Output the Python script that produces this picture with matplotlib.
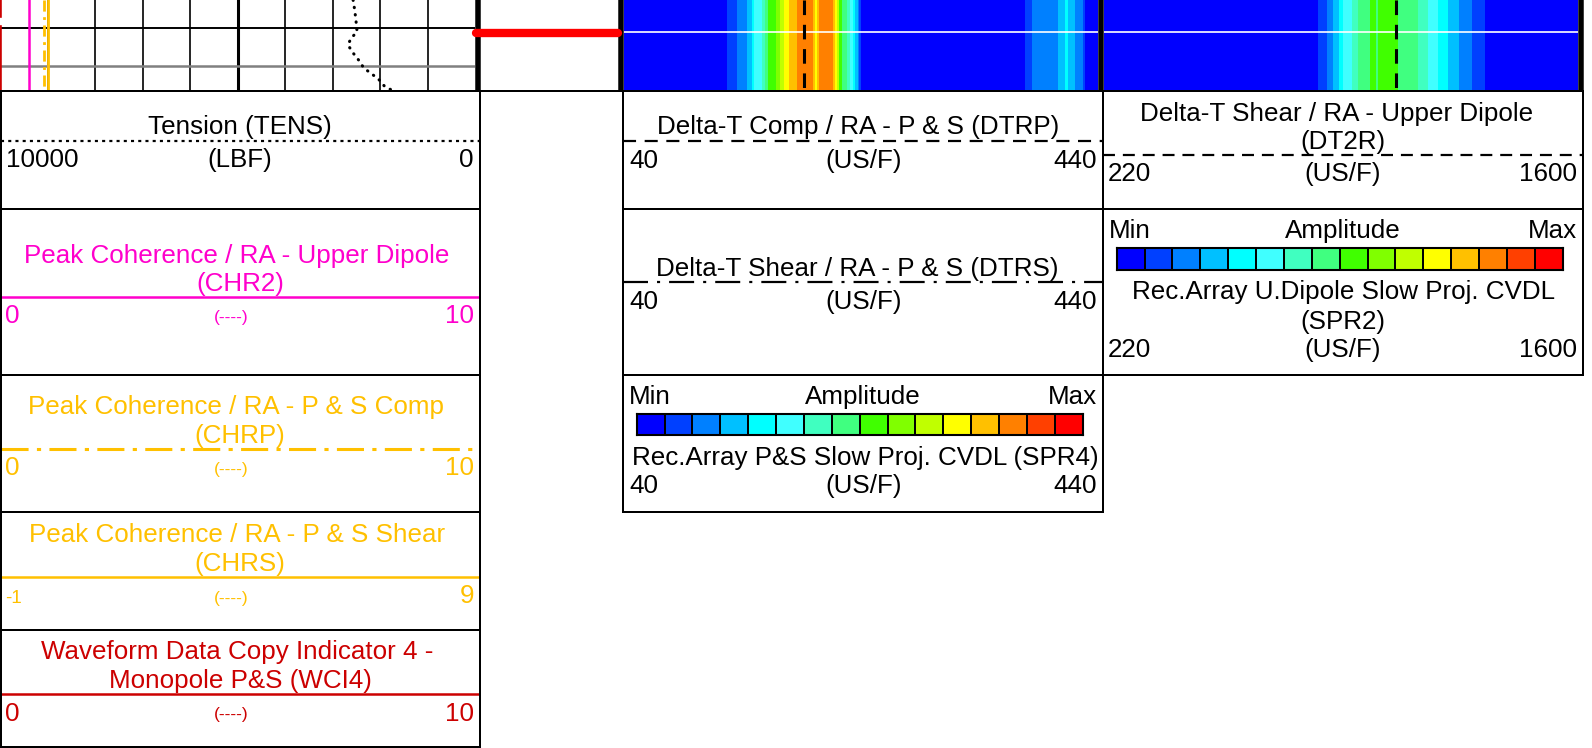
import numpy as np
import matplotlib
matplotlib.use("Agg")
import matplotlib.pyplot as plt
from matplotlib.colors import ListedColormap, BoundaryNorm

plt.rcParams['font.family'] = ['Liberation Sans', 'DejaVu Sans']
plt.rcParams['lines.scale_dashes'] = False

W, H, DPI = 1592, 748, 100
PX = 72.0 / DPI          # points per pixel

# ---------------------------------------------------------------- log data
DEPTH_TOP, DEPTH_BOTTOM = 4520.0, 4529.0          # ft shown in the strip
depth_grid_major = [4522.75]
depth_grid_minor = [4526.6]
marker_depth = 4523.3
image_line_depth = 4523.2

tens_depth = [4520.0, 4521.0, 4522.0, 4523.2, 4523.8, 4524.5, 4525.3,
              4526.0, 4526.8, 4527.3, 4527.9, 4528.6, 4529.0]
tens = [2566, 2533, 2507, 2482, 2608, 2674, 2566, 2451, 2341, 2200,
        2034, 1909, 1758]
TENS_SCALE = (10000, 0)

chr2_depth = [4520.0, 4529.0]
chr2 = [0.62, 0.62]
CHR2_SCALE = (0, 10)

chrp_depth = [4520.0, 4529.0]
chrp = [0.92, 0.92]
CHRP_SCALE = (0, 10)

chrs_depth = [4520.0, 4529.0]
chrs = [0.0, 0.0]
CHRS_SCALE = (-1, 9)

wci4_depth = [4520.0, 4521.6, 4522.1, 4522.7, 4529.0]
wci4 = [0, 0, np.nan, 0, 0]
WCI4_SCALE = (0, 10)

dtrp_depth = [4520.0, 4529.0]
dtrp = [192.2, 192.2]
DTRP_SCALE = (40, 440)

dt2r_depth = [4520.0, 4529.0]
dt2r = [1069.0, 1069.0]
DT2R_SCALE = (220, 1600)

# slowness projections: band edges (us/ft) and amplitude class per band
spr4_edges = [40.0, 126.7, 135.1, 144.1, 147.8, 150.0, 156.2, 159.0, 161.8,
              168.0, 171.6, 175.3, 179.2, 185.7, 199.9, 201.6, 202.9, 204.6,
              216.6, 218.1, 220.0, 221.4, 223.7, 227.9, 230.7, 233.0, 234.9,
              237.2, 238.3, 240.0, 378.4, 384.1, 406.5, 412.2, 414.9, 420.6,
              427.6, 429.0, 440.0]
spr4_level = [0, 1, 2, 3, 4, 5, 6, 7, 8, 9, 10, 11, 12, 13, 12, 11, 12, 13,
              12, 11, 10, 8, 7, 6, 5, 4, 3, 2, 1, 0, 1, 2, 3, 4, 3, 2, 1, 0]
SPR4_SCALE = (40, 440)

spr2_edges = [220.0, 843.9, 868.4, 887.6, 905.1, 916.7, 941.2, 960.4, 994.4,
              1011.9, 1016.8, 1076.8, 1135.1, 1164.2, 1193.3, 1222.4, 1254.4,
              1290.5, 1329.2, 1600.0]
spr2_level = [0, 1, 2, 3, 4, 5, 6, 7, 8, 7, 8, 7, 6, 5, 4, 3, 2, 1, 0]
SPR2_SCALE = (220, 1600)

amp_colors = ['#0000FF', '#0040FF', '#0080FF', '#00C0FF', '#00FFFF',
              '#40FFFF', '#40FFC0', '#40FF80', '#40FF00', '#80FF00',
              '#C0FF00', '#FFFF00', '#FFC000', '#FF8000', '#FF4000',
              '#FF0000']

MAGENTA, AMBER, DARKRED = '#FF00CC', '#FFC000', '#CC0000'

# ---------------------------------------------------------------- layout
STRIP_H = 90
T1, T2, T3, T4 = (0, 475), (480, 618), (624, 1098), (1104, 1578)
FS = 18.7           # header font size (pt)
FS_SMALL = 12.5

amp_cmap = ListedColormap(amp_colors)
amp_norm = BoundaryNorm(np.arange(-0.5, 16.5, 1.0), 16)

fig = plt.figure(figsize=(W / DPI, H / DPI), dpi=DPI)
fig.patch.set_facecolor('white')

canvas = fig.add_axes([0, 0, 1, 1])
canvas.set_xlim(0, W)
canvas.set_ylim(H, 0)
canvas.axis('off')


def px_rect(x0, y0, x1, y1):
    return [x0 / W, 1 - y1 / H, (x1 - x0) / W, (y1 - y0) / H]


def track_axes(span, xlim, z=1):
    ax = fig.add_axes(px_rect(span[0], 0, span[1], STRIP_H), zorder=z)
    ax.set_xlim(*xlim)
    ax.set_ylim(DEPTH_BOTTOM, DEPTH_TOP)
    ax.axis('off')
    ax.patch.set_alpha(0)
    return ax


def curve(span, scale, d, v, z=3, **kw):
    ax = track_axes(span, scale, z)
    ax.plot(v, d, **kw)
    return ax


# ---- track 1 grid
g = track_axes(T1, (0, 10), 1)
for k in range(1, 10):
    g.axvline(k, color='black', lw=(2.2 if k == 5 else 1.2))
for d in depth_grid_major:
    g.axhline(d, color='black', lw=1.4)
for d in depth_grid_minor:
    g.axhline(d, color='#808080', lw=1.8)

# ---- track 1 curves
curve(T1, WCI4_SCALE, wci4_depth, wci4, z=3, color=DARKRED, lw=2.6)
curve(T1, CHR2_SCALE, chr2_depth, chr2, z=3, color=MAGENTA, lw=1.8)
curve(T1, CHRS_SCALE, chrs_depth, chrs, z=3, color=AMBER, lw=2.0)
curve(T1, CHRP_SCALE, chrp_depth, chrp, z=3, color=AMBER, lw=2.0,
      dashes=(8, 4, 2, 4))
curve(T1, TENS_SCALE, tens_depth, tens, z=3, color='black', lw=2.2,
      dashes=(0.3, 5.0), dash_capstyle='round')

# ---- depth track marker
m = track_axes(T2, (0, 1), 2)
m.plot([-0.03, 1.0], [marker_depth, marker_depth], color='#FF0000', lw=6.0,
       solid_capstyle='round', clip_on=False)

# ---- slowness projection images
for span, scale, edges, lev in ((T3, SPR4_SCALE, spr4_edges, spr4_level),
                                (T4, SPR2_SCALE, spr2_edges, spr2_level)):
    ax = track_axes(span, scale, 1)
    ax.pcolormesh(edges, [DEPTH_TOP, DEPTH_BOTTOM], np.array([lev]),
                  cmap=amp_cmap, norm=amp_norm, shading='flat')
    ax.axhline(image_line_depth, color='white', lw=1.2)

curve(T3, DTRP_SCALE, dtrp_depth, dtrp, z=3, color='black', lw=2.2,
      dashes=(10.5, 7))
curve(T4, DT2R_SCALE, dt2r_depth, dt2r, z=3, color='black', lw=2.2,
      dashes=(10.5, 7))

# ---- track borders
for xb in (477.5, 621, 1101, 1580.5):
    canvas.plot([xb, xb], [0, STRIP_H], color='black', lw=5.5 * PX,
                solid_capstyle='butt', zorder=10)
canvas.plot([0, 1583], [91, 91], color='black', lw=2 * PX, zorder=10)

# ---------------------------------------------------------------- headers
EDGE = 2.0 * PX


def box(x0, y0, x1, y1):
    canvas.add_patch(plt.Rectangle((x0, y0), x1 - x0, y1 - y0, fill=False,
                                   edgecolor='black', lw=EDGE, zorder=5))


def put(x, yc, s, ha='center', size=FS, color='black'):
    canvas.text(x, yc + 0.358 * size / PX, s, ha=ha, va='baseline',
                fontsize=size, color=color, zorder=6)


def small(x, yc, s, color):
    canvas.text(x, yc, s, ha='center', va='center', fontsize=FS_SMALL,
                color=color, zorder=6)


def sample(x0, x1, y, **kw):
    canvas.plot([x0, x1], [y, y], zorder=4, solid_capstyle='butt', **kw)


# left column
LX0, LX1 = 0.8, 480
LC = 240
for y0, y1 in ((91, 208.5), (208.5, 375), (375, 511.7), (511.7, 630),
               (630, 747)):
    box(LX0, y0, LX1, y1)

put(LC, 125, 'Tension (TENS)')
sample(LX0, LX1, 140.7, color='black', lw=1.6, dashes=(2.2, 3.0))
put(6, 158, '10000', ha='left')
put(LC, 158, '(LBF)')
put(474, 158, '0', ha='right')

put(LC - 3, 253.3, 'Peak Coherence / RA - Upper Dipole', color=MAGENTA)
put(LC, 281.7, '(CHR2)', color=MAGENTA)
sample(LX0, LX1, 297.3, color=MAGENTA, lw=1.8)
put(5, 314, '0', ha='left', color=MAGENTA)
small(231, 317.7, '(----)', MAGENTA)
put(474, 314, '10', ha='right', color=MAGENTA)

put(LC - 4, 405, 'Peak Coherence / RA - P & S Comp', color=AMBER)
put(LC, 433.3, '(CHRP)', color=AMBER)
sample(LX0, LX1, 449, color=AMBER, lw=2.2, dashes=(19.5, 6, 3, 6))
put(5, 466, '0', ha='left', color=AMBER)
small(231, 469.3, '(----)', AMBER)
put(474, 466, '10', ha='right', color=AMBER)

put(LC - 3, 532.7, 'Peak Coherence / RA - P & S Shear', color=AMBER)
put(LC, 561.7, '(CHRS)', color=AMBER)
sample(LX0, LX1, 576.7, color=AMBER, lw=1.8)
put(5, 596, '-1', ha='left', size=13.5, color=AMBER)
small(231, 598, '(----)', AMBER)
put(474, 594, '9', ha='right', color=AMBER)

put(LC - 3, 650, 'Waveform Data Copy Indicator 4 -', color=DARKRED)
put(LC, 678.3, 'Monopole P&S (WCI4)', color=DARKRED)
sample(LX0, LX1, 694.3, color=DARKRED, lw=1.8)
put(5, 711.7, '0', ha='left', color=DARKRED)
small(231, 715, '(----)', DARKRED)
put(474, 711.7, '10', ha='right', color=DARKRED)

# middle column (P & S)
MX0, MX1 = 623.3, 1103
MC = (MX0 + MX1) / 2
for y0, y1 in ((91, 208.5), (208.5, 375), (375, 511.7)):
    box(MX0, y0, MX1, y1)

put(MC - 5, 125, 'Delta-T Comp / RA - P & S (DTRP)')
sample(MX0, MX1, 140.7, color='black', lw=1.6, dashes=(9.4, 6.2))
put(629, 158.3, '40', ha='left')
put(MC, 158.3, '(US/F)')
put(1097, 158.3, '440', ha='right')

put(MC - 6, 266.7, 'Delta-T Shear / RA - P & S (DTRS)')
sample(MX0, MX1, 282.3, color='black', lw=1.6, dashes=(18, 6.5, 2.2, 6.5))
put(629, 299.3, '40', ha='left')
put(MC, 299.3, '(US/F)')
put(1097, 299.3, '440', ha='right')

put(629, 395, 'Min', ha='left')
put(MC, 395, 'Amplitude')
put(1097, 395, 'Max', ha='right')
put(MC + 2, 456, 'Rec.Array P&S Slow Proj. CVDL (SPR4)')
put(629, 483.3, '40', ha='left')
put(MC, 483.3, '(US/F)')
put(1097, 483.3, '440', ha='right')

# right column (upper dipole)
RX0, RX1 = 1103, 1583
RC = (RX0 + RX1) / 2
for y0, y1 in ((91, 208.5), (208.5, 375)):
    box(RX0, y0, RX1, y1)

put(RC - 6, 111.7, 'Delta-T Shear / RA - Upper Dipole')
put(RC, 140, '(DT2R)')
sample(RX0, RX1, 155, color='black', lw=1.6, dashes=(8.6, 5.7))
put(1108, 171.7, '220', ha='left')
put(RC, 171.7, '(US/F)')
put(1577, 171.7, '1600', ha='right')

put(1109, 228.3, 'Min', ha='left')
put(RC, 228.3, 'Amplitude')
put(1577, 228.3, 'Max', ha='right')
put(RC, 290, 'Rec.Array U.Dipole Slow Proj. CVDL')
put(RC, 319.3, '(SPR2)')
put(1108, 347.3, '220', ha='left')
put(RC, 347.3, '(US/F)')
put(1577, 347.3, '1600', ha='right')

# amplitude colour keys
for x0, y0, x1, y1 in ((636.7, 414, 1082.7, 435), (1116.7, 248.3, 1562.7, 270)):
    cb = fig.add_axes(px_rect(x0, y0, x1, y1), zorder=6)
    cb.pcolormesh(np.arange(17), [0, 1], np.arange(16)[np.newaxis, :],
                  cmap=amp_cmap, norm=amp_norm, edgecolors='black',
                  linewidth=1.1)
    cb.set_xlim(0, 16)
    cb.set_ylim(0, 1)
    cb.set_xticks([])
    cb.set_yticks([])
    for sp in cb.spines.values():
        sp.set_linewidth(1.5)

fig.savefig('out.png', dpi=DPI, facecolor='white')
